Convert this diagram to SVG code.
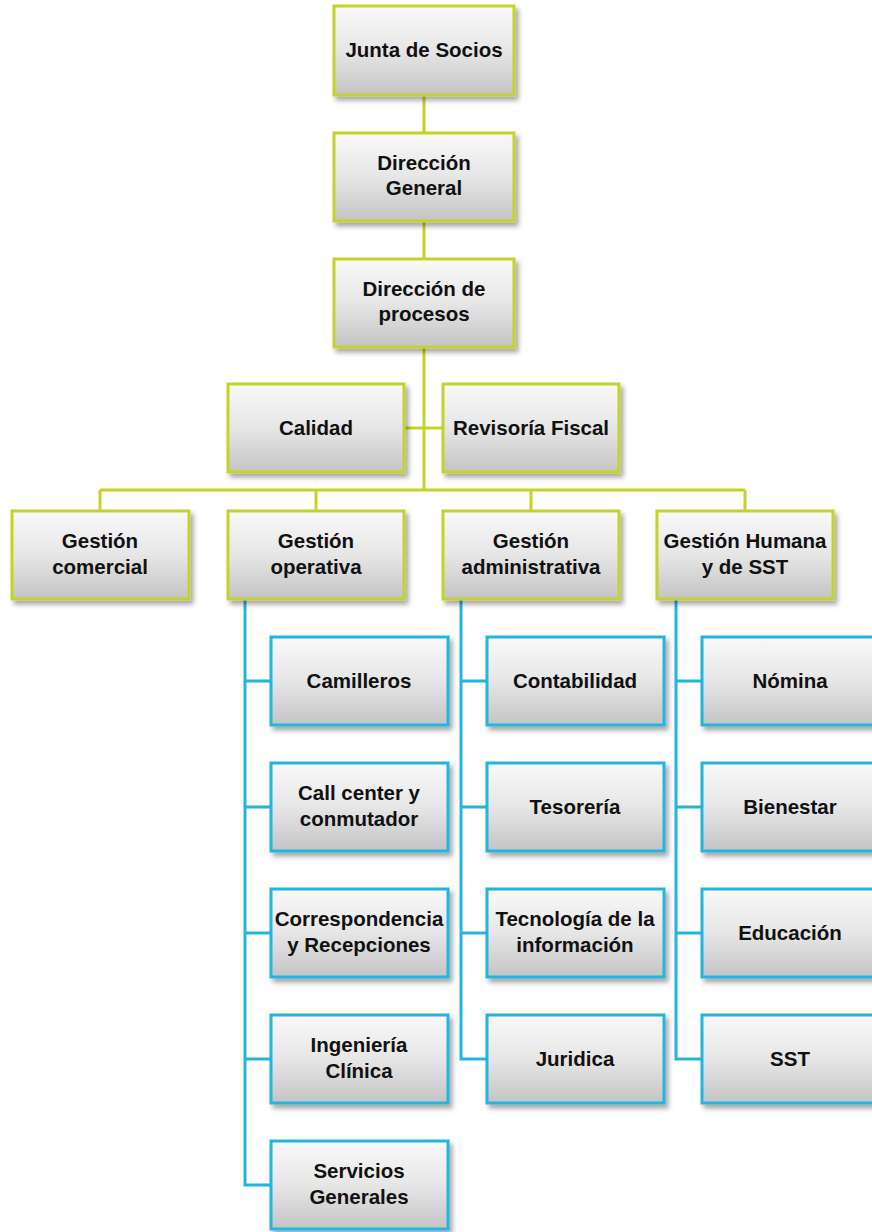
<svg xmlns="http://www.w3.org/2000/svg" width="872" height="1232" viewBox="0 0 872 1232">
<defs>
<linearGradient id="g" x1="0" y1="0" x2="0" y2="1">
<stop offset="0" stop-color="#f9f9f9"/>
<stop offset="0.5" stop-color="#e6e6e6"/>
<stop offset="1" stop-color="#c4c4c4"/>
</linearGradient>
<filter id="sh" x="-10%" y="-10%" width="125%" height="130%">
<feDropShadow dx="3" dy="4" stdDeviation="2.5" flood-color="#000" flood-opacity="0.35"/>
</filter>
</defs>
<style>
.bx{fill:url(#g);stroke-width:3;filter:url(#sh)}
.gr{stroke:#c3d32a}
.bl{stroke:#22b5e0}
.t{font-family:"Liberation Sans",Arial,sans-serif;font-weight:bold;font-size:20.5px;fill:#111;text-anchor:middle}
.cg{stroke:#c3d32a;stroke-width:3;fill:none}
.cb{stroke:#22b5e0;stroke-width:3;fill:none}
</style>
<g id="connectors">
<path class="cg" d="M424 95V133M424 221V259M424 347V490M404 428H443M100 490H745M100 490V511M316 490V511M531 490V511M745 490V511"/>
<path class="cb" d="M245 599V1185H271M245 681H271M245 807H271M245 933H271M245 1059H271"/>
<path class="cb" d="M461 599V1059H487M461 681H487M461 807H487M461 933H487"/>
<path class="cb" d="M676 599V1059H702M676 681H702M676 807H702M676 933H702"/>
</g>
<g id="junta"><rect class="bx gr" x="334" y="6" width="180" height="89"/><text class="t" x="424" y="57">Junta de Socios</text></g>
<g id="direccion-general"><rect class="bx gr" x="334" y="133" width="180" height="88"/><text class="t" x="424" y="170">Dirección</text><text class="t" x="424" y="195">General</text></g>
<g id="direccion-procesos"><rect class="bx gr" x="334" y="259" width="180" height="88"/><text class="t" x="424" y="296">Dirección de</text><text class="t" x="424" y="321">procesos</text></g>
<g id="calidad"><rect class="bx gr" x="228" y="384" width="176" height="88"/><text class="t" x="316" y="435">Calidad</text></g>
<g id="revisoria"><rect class="bx gr" x="443" y="384" width="176" height="88"/><text class="t" x="531" y="435">Revisoría Fiscal</text></g>
<g id="comercial"><rect class="bx gr" x="12" y="511" width="177" height="88"/><text class="t" x="100" y="548">Gestión</text><text class="t" x="100" y="574">comercial</text></g>
<g id="operativa"><rect class="bx gr" x="228" y="511" width="176" height="88"/><text class="t" x="316" y="548">Gestión</text><text class="t" x="316" y="574">operativa</text></g>
<g id="administrativa"><rect class="bx gr" x="443" y="511" width="176" height="88"/><text class="t" x="531" y="548">Gestión</text><text class="t" x="531" y="574">administrativa</text></g>
<g id="humana"><rect class="bx gr" x="657" y="511" width="176" height="88"/><text class="t" x="745" y="548">Gestión Humana</text><text class="t" x="745" y="574">y de SST</text></g>
<g id="camilleros"><rect class="bx bl" x="271" y="637" width="177" height="88"/><text class="t" x="359" y="688">Camilleros</text></g>
<g id="callcenter"><rect class="bx bl" x="271" y="763" width="177" height="88"/><text class="t" x="359" y="800">Call center y</text><text class="t" x="359" y="826">conmutador</text></g>
<g id="correspondencia"><rect class="bx bl" x="271" y="889" width="177" height="88"/><text class="t" x="359" y="926">Correspondencia</text><text class="t" x="359" y="952">y Recepciones</text></g>
<g id="ingenieria"><rect class="bx bl" x="271" y="1015" width="177" height="88"/><text class="t" x="359" y="1052">Ingeniería</text><text class="t" x="359" y="1078">Clínica</text></g>
<g id="servicios"><rect class="bx bl" x="271" y="1141" width="177" height="88"/><text class="t" x="359" y="1178">Servicios</text><text class="t" x="359" y="1204">Generales</text></g>
<g id="contabilidad"><rect class="bx bl" x="487" y="637" width="177" height="88"/><text class="t" x="575" y="688">Contabilidad</text></g>
<g id="tesoreria"><rect class="bx bl" x="487" y="763" width="177" height="88"/><text class="t" x="575" y="814">Tesorería</text></g>
<g id="tecnologia"><rect class="bx bl" x="487" y="889" width="177" height="88"/><text class="t" x="575" y="926">Tecnología de la</text><text class="t" x="575" y="952">información</text></g>
<g id="juridica"><rect class="bx bl" x="487" y="1015" width="177" height="88"/><text class="t" x="575" y="1066">Juridica</text></g>
<g id="nomina"><rect class="bx bl" x="702" y="637" width="177" height="88"/><text class="t" x="790" y="688">Nómina</text></g>
<g id="bienestar"><rect class="bx bl" x="702" y="763" width="177" height="88"/><text class="t" x="790" y="814">Bienestar</text></g>
<g id="educacion"><rect class="bx bl" x="702" y="889" width="177" height="88"/><text class="t" x="790" y="940">Educación</text></g>
<g id="sst"><rect class="bx bl" x="702" y="1015" width="177" height="88"/><text class="t" x="790" y="1066">SST</text></g>
</svg>
